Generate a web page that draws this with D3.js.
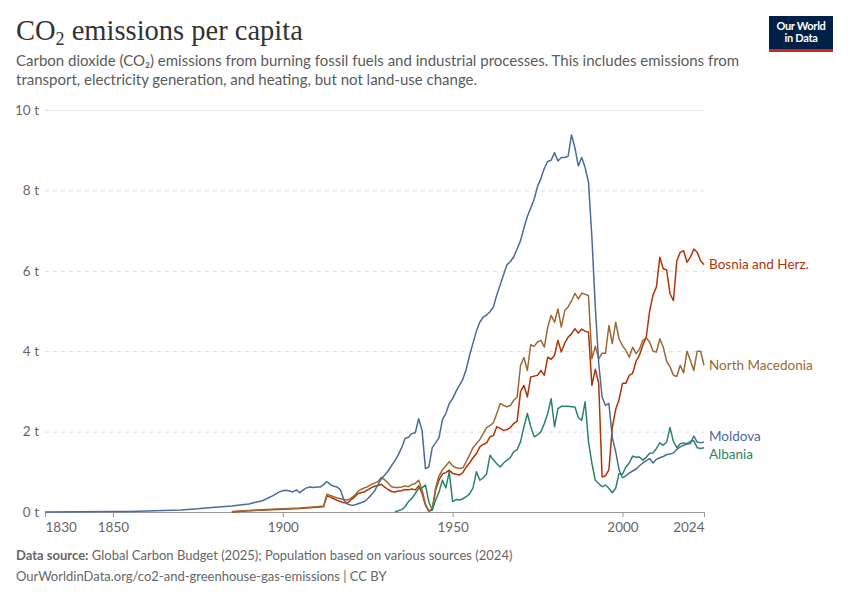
<!DOCTYPE html>
<html>
<head>
<meta charset="utf-8">
<script src="https://cdn.jsdelivr.net/npm/d3@7"></script>
<style>
  body { margin: 0; background: #fff; }
  text { font-family: Lato, "Noto Sans", sans-serif; }
</style>
</head>
<body>
<div id="vis-holder"></div>
<script>
// Chart data: [year, tonnes per person]
const moldova = [
  [1830, 0.0], [1840, 0.005], [1850, 0.01], [1855, 0.015], [1860, 0.025], [1865, 0.035],
  [1870, 0.05], [1875, 0.08], [1880, 0.12], [1885, 0.15], [1888, 0.18], [1890, 0.2],
  [1892, 0.24], [1894, 0.28], [1895, 0.32], [1896, 0.36], [1897, 0.4], [1898, 0.45],
  [1899, 0.5], [1900, 0.53], [1901, 0.54], [1902, 0.52], [1903, 0.5], [1904, 0.55],
  [1905, 0.48], [1906, 0.55], [1907, 0.6], [1908, 0.62], [1909, 0.61], [1910, 0.62],
  [1911, 0.62], [1912, 0.68], [1913, 0.76], [1914, 0.68], [1915, 0.64], [1916, 0.62],
  [1917, 0.55], [1918, 0.3], [1919, 0.2], [1920, 0.17], [1921, 0.17], [1922, 0.2],
  [1923, 0.23], [1924, 0.26], [1925, 0.33], [1926, 0.42], [1927, 0.52], [1928, 0.68],
  [1929, 0.82], [1930, 0.92], [1931, 1.02], [1932, 1.15], [1933, 1.28], [1934, 1.42],
  [1935, 1.6], [1936, 1.83], [1937, 1.86], [1938, 1.95], [1939, 1.97], [1940, 2.32],
  [1941, 2.03], [1942, 1.08], [1943, 1.12], [1944, 1.6], [1945, 1.72], [1946, 1.85],
  [1947, 2.3], [1948, 2.45], [1949, 2.7], [1950, 2.82], [1951, 3.0], [1952, 3.15],
  [1953, 3.3], [1954, 3.55], [1955, 3.9], [1956, 4.2], [1957, 4.5], [1958, 4.72],
  [1959, 4.85], [1960, 4.9], [1961, 4.98], [1962, 5.1], [1963, 5.4], [1964, 5.65],
  [1965, 5.9], [1966, 6.15], [1967, 6.23], [1968, 6.35], [1969, 6.55], [1970, 6.75],
  [1971, 7.07], [1972, 7.35], [1973, 7.56], [1974, 7.78], [1975, 8.1], [1976, 8.3],
  [1977, 8.55], [1978, 8.72], [1979, 8.75], [1980, 8.94], [1981, 8.73], [1982, 8.82],
  [1983, 8.82], [1984, 8.85], [1985, 9.38], [1986, 9.06], [1987, 8.61], [1988, 8.82],
  [1989, 8.57], [1990, 8.2], [1991, 6.83], [1992, 5.1], [1993, 3.7], [1994, 2.86],
  [1995, 2.65], [1996, 2.7], [1997, 1.85], [1998, 1.5], [1999, 1.05], [2000, 0.85],
  [2001, 0.9], [2002, 0.97], [2003, 1.02], [2004, 1.07], [2005, 1.15], [2006, 1.22],
  [2007, 1.28], [2008, 1.33], [2009, 1.22], [2010, 1.31], [2011, 1.35], [2012, 1.38],
  [2013, 1.43], [2014, 1.44], [2015, 1.47], [2016, 1.56], [2017, 1.62], [2018, 1.66],
  [2019, 1.69], [2020, 1.7], [2021, 1.89], [2022, 1.74], [2023, 1.72], [2024, 1.74]
];

const bosnia = [
  [1885, 0.0], [1890, 0.03], [1895, 0.05], [1900, 0.07], [1905, 0.09], [1910, 0.12],
  [1912, 0.13], [1913, 0.4], [1914, 0.37], [1915, 0.33], [1916, 0.29], [1917, 0.26],
  [1918, 0.23], [1919, 0.22], [1920, 0.3], [1921, 0.36], [1922, 0.45], [1923, 0.48],
  [1924, 0.5], [1925, 0.55], [1926, 0.6], [1927, 0.64], [1928, 0.66], [1929, 0.69],
  [1930, 0.62], [1931, 0.56], [1932, 0.51], [1933, 0.5], [1934, 0.52], [1935, 0.53],
  [1936, 0.56], [1937, 0.55], [1938, 0.57], [1939, 0.55], [1940, 0.65], [1941, 0.46],
  [1942, 0.17], [1943, 0.02], [1944, 0.05], [1945, 0.55], [1946, 0.8], [1947, 0.95],
  [1948, 0.98], [1949, 1.04], [1950, 0.96], [1951, 0.94], [1952, 0.92], [1953, 0.98],
  [1954, 1.12], [1955, 1.22], [1956, 1.35], [1957, 1.45], [1958, 1.62], [1959, 1.68],
  [1960, 1.72], [1961, 1.87], [1962, 1.9], [1963, 2.12], [1964, 2.08], [1965, 2.03],
  [1966, 2.05], [1967, 2.1], [1968, 2.2], [1969, 2.26], [1970, 3.0], [1971, 3.15],
  [1972, 2.86], [1973, 3.36], [1974, 3.38], [1975, 3.4], [1976, 3.52], [1977, 3.4],
  [1978, 3.85], [1979, 3.8], [1980, 3.9], [1981, 4.27], [1982, 3.98], [1983, 4.2],
  [1984, 4.35], [1985, 4.43], [1986, 4.56], [1987, 4.45], [1988, 4.55], [1989, 4.5],
  [1990, 4.47], [1991, 3.15], [1992, 3.55], [1993, 3.2], [1994, 0.87], [1995, 0.9],
  [1996, 1.05], [1997, 2.1], [1998, 2.55], [1999, 2.8], [2000, 3.2], [2001, 3.2],
  [2002, 3.4], [2003, 3.45], [2004, 3.75], [2005, 3.9], [2006, 4.15], [2007, 4.35],
  [2008, 5.0], [2009, 5.4], [2010, 5.6], [2011, 6.34], [2012, 6.05], [2013, 6.02],
  [2014, 5.43], [2015, 5.26], [2016, 6.25], [2017, 6.46], [2018, 6.5], [2019, 6.21],
  [2020, 6.34], [2021, 6.54], [2022, 6.46], [2023, 6.25], [2024, 6.15]
];

const northMacedonia = [
  [1885, 0.01], [1890, 0.04], [1895, 0.06], [1900, 0.08], [1905, 0.1], [1910, 0.13],
  [1912, 0.15], [1913, 0.44], [1914, 0.41], [1915, 0.38], [1916, 0.35], [1917, 0.33],
  [1918, 0.31], [1919, 0.3], [1920, 0.34], [1921, 0.4], [1922, 0.5], [1923, 0.56],
  [1924, 0.6], [1925, 0.63], [1926, 0.68], [1927, 0.72], [1928, 0.76], [1929, 0.86],
  [1930, 0.8], [1931, 0.72], [1932, 0.63], [1933, 0.61], [1934, 0.61], [1935, 0.62],
  [1936, 0.65], [1937, 0.63], [1938, 0.68], [1939, 0.71], [1940, 0.79], [1941, 0.55],
  [1942, 0.2], [1943, 0.03], [1944, 0.07], [1945, 0.6], [1946, 0.9], [1947, 1.05],
  [1948, 1.15], [1949, 1.25], [1950, 1.15], [1951, 1.1], [1952, 1.08], [1953, 1.1],
  [1954, 1.25], [1955, 1.42], [1956, 1.6], [1957, 1.7], [1958, 1.8], [1959, 1.95],
  [1960, 2.1], [1961, 2.15], [1962, 2.22], [1963, 2.45], [1964, 2.7], [1965, 2.65],
  [1966, 2.62], [1967, 2.65], [1968, 2.78], [1969, 2.86], [1970, 3.65], [1971, 3.84],
  [1972, 3.52], [1973, 4.16], [1974, 4.12], [1975, 4.23], [1976, 4.27], [1977, 4.1],
  [1978, 4.6], [1979, 4.89], [1980, 4.72], [1981, 5.05], [1982, 4.6], [1983, 5.01],
  [1984, 5.1], [1985, 5.25], [1986, 5.44], [1987, 5.3], [1988, 5.44], [1989, 5.42],
  [1990, 5.38], [1991, 3.81], [1992, 4.12], [1993, 3.81], [1994, 3.95], [1995, 3.95],
  [1996, 4.64], [1997, 4.19], [1998, 4.72], [1999, 4.31], [2000, 4.14], [2001, 4.02],
  [2002, 3.85], [2003, 4.1], [2004, 3.94], [2005, 4.05], [2006, 4.27], [2007, 4.33],
  [2008, 4.23], [2009, 4.0], [2010, 3.98], [2011, 4.31], [2012, 4.1], [2013, 3.75],
  [2014, 3.61], [2015, 3.4], [2016, 3.37], [2017, 3.65], [2018, 3.46], [2019, 4.0],
  [2020, 3.77], [2021, 3.52], [2022, 4.0], [2023, 4.0], [2024, 3.65]
];

const albania = [
  [1933, 0.0], [1934, 0.03], [1935, 0.06], [1936, 0.13], [1937, 0.26], [1938, 0.34],
  [1939, 0.46], [1940, 0.59], [1941, 0.6], [1942, 0.67], [1943, 0.25], [1944, 0.05],
  [1945, 0.3], [1946, 0.5], [1947, 0.79], [1948, 0.6], [1949, 1.0], [1950, 0.26],
  [1951, 0.31], [1952, 0.3], [1953, 0.33], [1954, 0.38], [1955, 0.45], [1956, 0.6],
  [1957, 1.0], [1958, 0.79], [1959, 0.85], [1960, 0.95], [1961, 1.41], [1962, 1.3],
  [1963, 1.2], [1964, 1.12], [1965, 1.22], [1966, 1.29], [1967, 1.35], [1968, 1.5],
  [1969, 1.55], [1970, 1.75], [1971, 2.12], [1972, 2.45], [1973, 2.12], [1974, 1.87],
  [1975, 1.92], [1976, 2.0], [1977, 2.2], [1978, 2.45], [1979, 2.82], [1980, 2.12],
  [1981, 2.57], [1982, 2.63], [1983, 2.63], [1984, 2.63], [1985, 2.62], [1986, 2.61],
  [1987, 2.35], [1988, 2.28], [1989, 2.74], [1990, 1.75], [1991, 1.21], [1992, 0.79],
  [1993, 0.71], [1994, 0.63], [1995, 0.67], [1996, 0.59], [1997, 0.48], [1998, 0.59],
  [1999, 0.96], [2000, 0.94], [2001, 1.12], [2002, 1.22], [2003, 1.39], [2004, 1.36],
  [2005, 1.37], [2006, 1.29], [2007, 1.36], [2008, 1.46], [2009, 1.47], [2010, 1.58],
  [2011, 1.72], [2012, 1.66], [2013, 1.74], [2014, 2.1], [2015, 1.75], [2016, 1.6],
  [2017, 1.7], [2018, 1.72], [2019, 1.7], [2020, 1.76], [2021, 1.77], [2022, 1.6],
  [2023, 1.58], [2024, 1.6]
];

const seriesNames = ["Bosnia and Herz.", "North Macedonia", "Moldova", "Albania"];
const seriesColors = ["#b13507", "#9a6a35", "#4c6a9c", "#2c8465"];
const xTicks = [1830, 1850, 1900, 1950, 2000, 2024];
const yTicks = [0, 2, 4, 6, 8, 10];

const series = [
  { name: seriesNames[0], color: seriesColors[0], values: bosnia },
  { name: seriesNames[1], color: seriesColors[1], values: northMacedonia },
  { name: seriesNames[2], color: seriesColors[2], values: moldova },
  { name: seriesNames[3], color: seriesColors[3], values: albania }
];

// Dimensions
const width = 850;
const height = 600;
const margin = { top: 110, right: 146, bottom: 88, left: 45 };

const svg = d3.select("#vis-holder")
  .append("svg")
  .attr("width", width)
  .attr("height", height)
  .attr("viewBox", [0, 0, width, height]);

// Scales
const x = d3.scaleLinear()
  .domain([1830, 2024])
  .range([margin.left, width - margin.right]);

const y = d3.scaleLinear()
  .domain([0, 10])
  .range([height - margin.bottom, margin.top]);

// Header
svg.append("text")
  .attr("x", 16)
  .attr("y", 40)
  .attr("fill", "#333")
  .style("font-family", "'Liberation Serif', 'DejaVu Serif', serif")
  .style("font-size", "28.5px")
  .html("CO<tspan font-size='18px' dy='5'>2</tspan><tspan dy='-5'> emissions per capita</tspan>");

const subtitle = [
  "Carbon dioxide (CO₂) emissions from burning fossil fuels and industrial processes. This includes emissions from",
  "transport, electricity generation, and heating, but not land-use change."
];
svg.selectAll(".subtitle")
  .data(subtitle)
  .enter()
  .append("text")
  .attr("class", "subtitle")
  .attr("x", 16)
  .attr("y", (d, i) => 66 + i * 19)
  .attr("fill", "#5b5b5b")
  .style("font-size", "15px")
  .text((d) => d);

// Logo
const logo = svg.append("g").attr("transform", "translate(769,16)");
logo.append("rect").attr("width", 64).attr("height", 36).attr("fill", "#002147");
logo.append("rect").attr("y", 33).attr("width", 64).attr("height", 3).attr("fill", "#ce261e");
logo.selectAll("text")
  .data(["Our World", "in Data"])
  .enter()
  .append("text")
  .attr("x", 32)
  .attr("y", (d, i) => 14 + i * 12)
  .attr("text-anchor", "middle")
  .attr("fill", "#fff")
  .style("font-size", "11px")
  .style("font-weight", "700")
  .style("letter-spacing", "-0.3px")
  .text((d) => d);

// Y gridlines and labels
const yAxis = svg.append("g")
  .attr("transform", `translate(${margin.left},0)`)
  .call(d3.axisLeft(y)
    .tickValues(yTicks)
    .tickSize(-(width - margin.right - margin.left))
    .tickPadding(6)
    .tickFormat((d) => `${d} t`));
yAxis.select(".domain").remove();
yAxis.selectAll(".tick line")
  .attr("stroke", "#dcdcdc")
  .attr("stroke-dasharray", "4,4")
  .filter((d) => d === 0).remove();
yAxis.selectAll(".tick text")
  .attr("fill", "#666")
  .style("font-size", "13.5px")
  .style("font-family", "Lato, sans-serif");

// X axis
const xAxis = svg.append("g")
  .attr("transform", `translate(0,${height - margin.bottom})`)
  .call(d3.axisBottom(x)
    .tickValues(xTicks)
    .tickSize(5)
    .tickPadding(5)
    .tickFormat(d3.format("d")));
xAxis.select(".domain").attr("stroke", "#999");
xAxis.selectAll(".tick line").attr("stroke", "#999");
xAxis.selectAll(".tick text")
  .attr("fill", "#666")
  .attr("text-anchor", (d) => d === 1830 ? "start" : d === 2024 ? "end" : "middle")
  .style("font-size", "13.5px")
  .style("font-family", "Lato, sans-serif");

// Lines
const line = d3.line()
  .x((d) => x(d[0]))
  .y((d) => y(d[1]));

svg.selectAll(".country-line")
  .data(series)
  .enter()
  .append("path")
  .attr("class", "country-line")
  .attr("fill", "none")
  .attr("stroke", (d) => d.color)
  .attr("stroke-width", 1.5)
  .attr("stroke-linejoin", "round")
  .attr("d", (d) => line(d.values));

// End labels, nudged apart when they would overlap
const labels = series.map((s) => ({
  name: s.name,
  color: s.color,
  ly: y(s.values[s.values.length - 1][1])
})).sort((a, b) => a.ly - b.ly);

for (let i = 1; i < labels.length; i++) {
  const gap = labels[i].ly - labels[i - 1].ly;
  if (gap < 18) {
    const shift = (18 - gap) / 2;
    labels[i - 1].ly -= shift;
    labels[i].ly += shift;
  }
}

svg.selectAll(".end-label")
  .data(labels)
  .enter()
  .append("text")
  .attr("class", "end-label")
  .attr("x", x(2024) + 5)
  .attr("y", (d) => d.ly)
  .attr("dy", "0.35em")
  .attr("fill", (d) => d.color)
  .style("font-size", "13.5px")
  .text((d) => d.name);

// Footer
svg.append("text")
  .attr("x", 16)
  .attr("y", 560)
  .attr("fill", "#666")
  .style("font-size", "13px")
  .html("<tspan font-weight='700'>Data source:</tspan> Global Carbon Budget (2025); Population based on various sources (2024)");

svg.append("text")
  .attr("x", 16)
  .attr("y", 581)
  .attr("fill", "#666")
  .style("font-size", "13px")
  .text("OurWorldinData.org/co2-and-greenhouse-gas-emissions | CC BY");
</script>
</body>
</html>
